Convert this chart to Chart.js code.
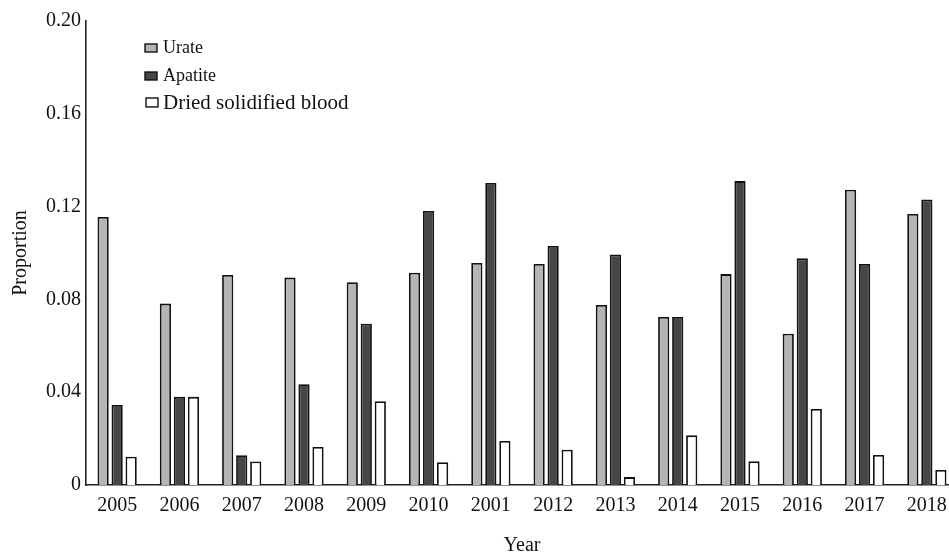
<!DOCTYPE html>
<html>
<head>
<meta charset="utf-8">
<script src="https://cdn.jsdelivr.net/npm/chart.js@4"></script>
<style>
  html, body { margin: 0; padding: 0; background: #fff; overflow: hidden; }
  #wrap { width: 958px; height: 555px; }
</style>
</head>
<body>
<div id="wrap"><canvas id="myChart" width="958" height="555"></canvas></div>
<script>
// values
var years = ["2005", "2006", "2007", "2008", "2009", "2010", "2001", "2012", "2013", "2014", "2015", "2016", "2017", "2018"];
var urate = [0.1155, 0.0782, 0.0905, 0.0894, 0.0874, 0.0915, 0.0957, 0.0953, 0.0776, 0.0724, 0.0909, 0.0652, 0.1273, 0.1168];
var apatite = [0.0345, 0.0380, 0.0128, 0.0434, 0.0695, 0.1181, 0.1302, 0.1030, 0.0994, 0.0724, 0.1310, 0.0977, 0.0953, 0.1231];
var dried = [0.0122, 0.0380, 0.0101, 0.0164, 0.0361, 0.0098, 0.0190, 0.0152, 0.0034, 0.0214, 0.0102, 0.0328, 0.0129, 0.0065];
var yTicks = [0, 0.04, 0.08, 0.12, 0.16, 0.20];

var serif = "'Liberation Serif', 'DejaVu Serif', serif";

// legend drawn inside the plot, like the original
var innerLegend = {
  id: 'innerLegend',
  afterDraw: function (chart) {
    var ctx = chart.ctx;
    var items = [
      { ds: 0, box: [145, 44, 12, 8], tx: 163, ty: 53, size: 18 },
      { ds: 1, box: [145, 72, 12, 8], tx: 163, ty: 81, size: 18 },
      { ds: 2, box: [146, 98, 12, 9], tx: 163, ty: 109, size: 21 }
    ];
    ctx.save();
    items.forEach(function (it) {
      var ds = chart.data.datasets[it.ds];
      ctx.fillStyle = ds.backgroundColor;
      ctx.strokeStyle = '#111';
      ctx.lineWidth = 1.4;
      ctx.fillRect(it.box[0], it.box[1], it.box[2], it.box[3]);
      ctx.strokeRect(it.box[0], it.box[1], it.box[2], it.box[3]);
      ctx.fillStyle = '#111';
      ctx.font = it.size + "px " + serif;
      ctx.textBaseline = 'alphabetic';
      ctx.textAlign = 'left';
      ctx.fillText(ds.label, it.tx, it.ty);
    });
    ctx.restore();
  }
};

var ctx = document.getElementById("myChart").getContext('2d');
var myChart = new Chart(ctx, {
  type: 'bar',
  data: {
    labels: years,
    datasets: [{
      label: 'Urate',
      data: urate,
      backgroundColor: '#b5b5b5',
      borderColor: '#111',
      borderWidth: 1.8
    }, {
      label: 'Apatite',
      data: apatite,
      backgroundColor: '#464646',
      borderColor: '#111',
      borderWidth: 1.8
    }, {
      label: 'Dried solidified blood',
      data: dried,
      backgroundColor: '#ffffff',
      borderColor: '#111',
      borderWidth: 1.8
    }]
  },
  options: {
    responsive: false,
    animation: false,
    devicePixelRatio: 1,
    layout: { padding: { top: 21, left: 0, right: 0, bottom: 0 } },
    datasets: { bar: { barPercentage: 0.8, categoryPercentage: 0.675 } },
    plugins: {
      legend: { display: false },
      tooltip: { enabled: false }
    },
    scales: {
      x: {
        grid: { display: false, drawTicks: false },
        border: { display: true, color: '#222', width: 1.6 },
        ticks: { color: '#111', font: { family: serif, size: 20 }, padding: 9, maxRotation: 0, autoSkip: false },
        title: { display: true, text: 'Year', color: '#111', font: { family: serif, size: 20, lineHeight: 0.9 }, padding: { top: 0, bottom: 0 } },
        afterFit: function (s) { s.height = 70; }
      },
      y: {
        min: 0,
        max: 0.2,
        grid: { display: false, drawTicks: false },
        border: { display: true, color: '#222', width: 1.6 },
        afterBuildTicks: function (s) {
          s.ticks = yTicks.map(function (v) { return { value: v }; });
        },
        ticks: {
          color: '#111',
          font: { family: serif, size: 20 },
          padding: 5,
          callback: function (v) { return v === 0 ? '0' : v.toFixed(2); }
        },
        title: { display: true, text: 'Proportion', color: '#111', font: { family: serif, size: 20 }, padding: { top: 9, bottom: 0 } },
        afterFit: function (s) { s.width = 86; }
      }
    }
  },
  plugins: [innerLegend]
});
</script>
</body>
</html>
